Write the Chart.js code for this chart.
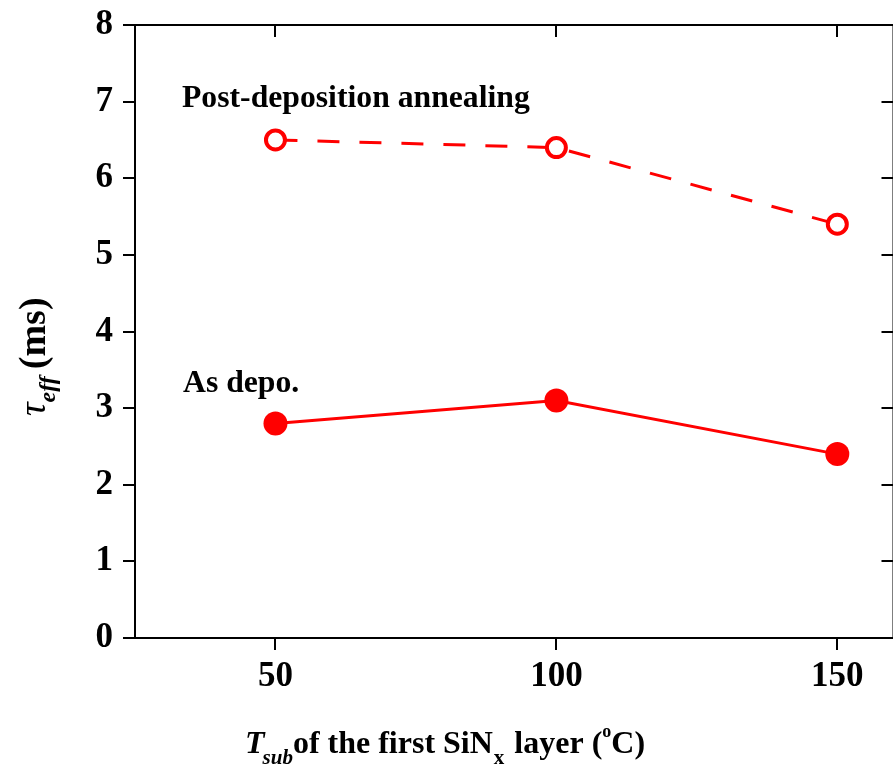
<!DOCTYPE html>
<html>
<head>
<meta charset="utf-8">
<script src="https://cdn.jsdelivr.net/npm/chart.js@4.4.1/dist/chart.umd.min.js"></script>
<style>
  html, body { margin: 0; padding: 0; background: #fff; overflow: hidden; }
  #wrap { position: absolute; left: 0; top: 0; width: 907px; height: 781px; }
</style>
</head>
<body>
<div id="wrap"><canvas id="chart" width="907" height="781"></canvas></div>
<script>
// data
const temps = [50, 100, 150];
const annealed = [6.5, 6.4, 5.4];
const asDepo = [2.8, 3.1, 2.4];
const xTicks = [50, 100, 150];

const SERIF = '"Liberation Serif", "Times New Roman", serif';
const RED = '#ff0000';

// axes frame + ticks (outward on left/bottom, inward on top/right)
const framePlugin = {
  id: 'frame',
  afterDraw(chart) {
    const ctx = chart.ctx;
    const a = chart.chartArea;
    const xs = chart.scales.x, ys = chart.scales.y;
    ctx.save();
    ctx.strokeStyle = '#000';
    ctx.lineWidth = 2;
    ctx.beginPath();
    ctx.rect(a.left, a.top, a.right - a.left, a.bottom - a.top);
    ctx.stroke();

    ctx.beginPath();
    xTicks.forEach(v => {
      const px = Math.round(xs.getPixelForValue(v));
      ctx.moveTo(px, a.bottom); ctx.lineTo(px, a.bottom + 12);
      ctx.moveTo(px, a.top); ctx.lineTo(px, a.top + 12);
    });
    ys.ticks.forEach(t => {
      const py = Math.round(ys.getPixelForValue(t.value));
      const major = Number.isInteger(t.value);
      const len = major ? 12 : 6;
      ctx.moveTo(a.left, py); ctx.lineTo(a.left - len, py);
      ctx.moveTo(a.right, py); ctx.lineTo(a.right - len, py);
    });
    ctx.stroke();

    // annotations
    ctx.fillStyle = '#000';
    ctx.textBaseline = 'alphabetic';
    ctx.font = 'bold 31.7px ' + SERIF;
    ctx.fillText('Post-deposition annealing', 182, 107);
    ctx.fillText('As depo.', 183, 392);

    // x axis title: T_sub of the first SiN_x layer (°C)
    let x = 245;
    const base = 753;
    ctx.font = 'italic bold 32px ' + SERIF;
    ctx.fillText('T', x, base); x += ctx.measureText('T').width - 2;
    ctx.font = 'italic bold 21px ' + SERIF;
    ctx.fillText('sub', x, base + 11); x += ctx.measureText('sub').width;
    ctx.font = 'bold 32px ' + SERIF;
    ctx.fillText('of the first SiN', x, base); x += ctx.measureText('of the first SiN').width;
    ctx.font = 'bold 21px ' + SERIF;
    ctx.fillText('x', x + 1, base + 11); x += ctx.measureText('x').width + 3;
    ctx.font = 'bold 32px ' + SERIF;
    ctx.fillText(' layer (', x, base); x += ctx.measureText(' layer (').width;
    ctx.font = 'bold 18px ' + SERIF;
    ctx.fillText('o', x, base - 16); x += ctx.measureText('o').width;
    ctx.font = 'bold 32px ' + SERIF;
    ctx.fillText('C)', x, base);

    // y axis title: tau_eff (ms), rotated
    ctx.translate(45, 416);
    ctx.rotate(-Math.PI / 2);
    let y = 0;
    ctx.font = 'italic 38px ' + SERIF;
    ctx.fillText('\u03c4', y, 0); y += ctx.measureText('\u03c4').width;
    ctx.font = 'italic bold 24px ' + SERIF;
    ctx.fillText('eff', y, 10); y += ctx.measureText('eff').width + 7;
    ctx.font = 'bold 38px ' + SERIF;
    ctx.fillText('(ms)', y, 0);
    ctx.restore();
  }
};

new Chart(document.getElementById('chart'), {
  type: 'line',
  data: {
    labels: temps,
    datasets: [
      {
        label: 'Post-deposition annealing',
        data: temps.map((t, i) => ({ x: t, y: annealed[i] })),
        borderColor: RED,
        borderWidth: 3,
        borderDash: [22, 20],
        pointRadius: 9.5,
        pointBorderWidth: 4,
        pointBackgroundColor: '#fff',
        pointBorderColor: RED,
        tension: 0
      },
      {
        label: 'As depo.',
        data: temps.map((t, i) => ({ x: t, y: asDepo[i] })),
        borderColor: RED,
        borderWidth: 3,
        pointRadius: 12,
        pointBorderWidth: 0,
        pointBackgroundColor: RED,
        pointBorderColor: RED,
        tension: 0
      }
    ]
  },
  options: {
    responsive: false,
    animation: false,
    // canvas is wider than the window so the right frame falls just off-screen
    layout: { padding: { left: 0, top: 25, right: 12, bottom: 0 } },
    plugins: { legend: { display: false }, tooltip: { enabled: false } },
    scales: {
      x: {
        type: 'linear',
        min: 25,
        max: 160,
        afterBuildTicks: s => { s.ticks = xTicks.map(v => ({ value: v })); },
        afterFit: s => { s.height = 143; s.paddingLeft = 0; s.paddingRight = 0; },
        grid: { display: false },
        border: { display: false },
        ticks: {
          padding: 10,
          color: '#000',
          font: { family: SERIF, size: 35, weight: 'bold' }
        }
      },
      y: {
        min: 0,
        max: 8,
        afterFit: s => { s.width = 135; s.paddingTop = 0; s.paddingBottom = 0; },
        grid: { display: false },
        border: { display: false },
        ticks: {
          stepSize: 0.5,
          padding: 14,
          color: '#000',
          font: { family: SERIF, size: 35, weight: 'bold' },
          callback: v => Number.isInteger(v) ? v : ''
        }
      }
    }
  },
  plugins: [framePlugin]
});
</script>
</body>
</html>
